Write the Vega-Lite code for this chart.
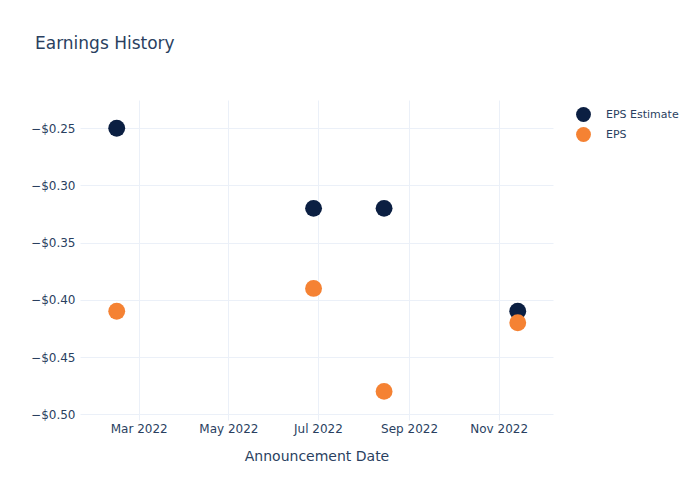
{
  "$schema": "https://vega.github.io/schema/vega-lite/v6.json",
  "autosize": "none",
  "width": 473,
  "height": 320,
  "padding": {"left": 80, "top": 100, "right": 147, "bottom": 80},
  "background": "white",
  "title": {
    "text": "Earnings History",
    "anchor": "start",
    "frame": "group",
    "dx": -45,
    "offset": 39,
    "baseline": "middle",
    "font": "DejaVu Sans",
    "fontSize": 17,
    "fontWeight": "normal",
    "color": "#2a3f5f"
  },
  "config": {
    "view": {"stroke": null},
    "font": "DejaVu Sans"
  },
  "data": {
    "values": [
      {"date": "2022-02-14", "series": "EPS Estimate", "value": -0.25},
      {"date": "2022-06-28", "series": "EPS Estimate", "value": -0.32},
      {"date": "2022-08-15", "series": "EPS Estimate", "value": -0.32},
      {"date": "2022-11-14", "series": "EPS Estimate", "value": -0.41},
      {"date": "2022-02-14", "series": "EPS", "value": -0.41},
      {"date": "2022-06-28", "series": "EPS", "value": -0.39},
      {"date": "2022-08-15", "series": "EPS", "value": -0.48},
      {"date": "2022-11-14", "series": "EPS", "value": -0.42}
    ]
  },
  "mark": {"type": "point", "filled": true, "opacity": 1, "size": 285, "shape": "circle"},
  "encoding": {
    "x": {
      "field": "date",
      "type": "temporal",
      "title": "Announcement Date",
      "scale": {"domain": ["2022-01-20", "2022-12-08"], "nice": false},
      "axis": {
        "values": ["2022-03-01", "2022-05-01", "2022-07-01", "2022-09-01", "2022-11-01"],
        "format": "%b %Y",
        "labelFont": "DejaVu Sans",
        "labelFontSize": 12,
        "labelColor": "#2a3f5f",
        "labelPadding": 3,
        "titleFont": "DejaVu Sans",
        "titleFontSize": 14,
        "titleFontWeight": "normal",
        "titleColor": "#2a3f5f",
        "titlePadding": 15,
        "domain": false,
        "ticks": false,
        "grid": true,
        "gridColor": "#ebf0f8",
        "gridWidth": 1
      }
    },
    "y": {
      "field": "value",
      "type": "quantitative",
      "title": null,
      "scale": {"domain": [-0.505, -0.2253], "nice": false, "zero": false},
      "axis": {
        "values": [-0.5, -0.45, -0.4, -0.35, -0.3, -0.25],
        "format": "$.2f",
        "labelFont": "DejaVu Sans",
        "labelFontSize": 12,
        "labelColor": "#2a3f5f",
        "labelPadding": 5,
        "domain": false,
        "ticks": false,
        "grid": true,
        "gridColor": "#ebf0f8",
        "gridWidth": 1
      }
    },
    "color": {
      "field": "series",
      "type": "nominal",
      "sort": ["EPS Estimate", "EPS"],
      "scale": {"domain": ["EPS Estimate", "EPS"], "range": ["#0b1f42", "#f58233"]},
      "legend": {
        "title": null,
        "orient": "none",
        "legendX": 495,
        "legendY": 6,
        "symbolType": "circle",
        "symbolSize": 220,
        "symbolOpacity": 1,
        "labelFont": "DejaVu Sans",
        "labelFontSize": 11,
        "labelColor": "#2a3f5f",
        "rowPadding": 4,
        "labelOffset": 14
      }
    }
  }
}
